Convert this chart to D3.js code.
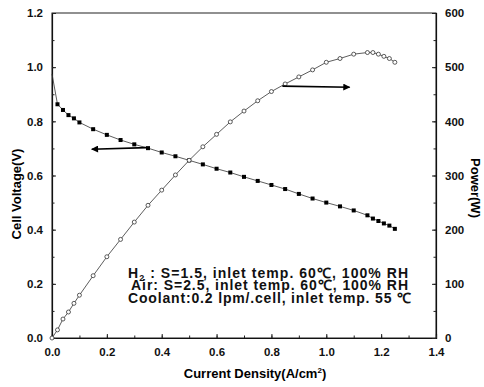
<!doctype html>
<html>
<head>
<meta charset="utf-8">
<style>
body { margin: 0; background: #fff; }
svg { display: block; font-family: "Liberation Sans", Arial, sans-serif; }
.tick text { font-size: 11.5px; font-weight: bold; fill: #111; }
</style>
<script src="https://d3js.org/d3.v7.min.js"></script>
</head>
<body>
<svg width="484" height="387"></svg>
<script>
// current density (A/cm2)
var current = [0, 0.02, 0.04, 0.06, 0.08, 0.10, 0.15, 0.20, 0.25, 0.30, 0.35, 0.40, 0.45, 0.50,
	0.55, 0.60, 0.65, 0.70, 0.75, 0.80, 0.85, 0.90, 0.95, 1.00, 1.05, 1.10, 1.15, 1.17, 1.19, 1.21, 1.23, 1.25];
// cell voltage (V)
var voltage = [0.975, 0.863, 0.842, 0.823, 0.811, 0.796, 0.771, 0.750, 0.731, 0.715, 0.701, 0.685, 0.671, 0.656,
	0.641, 0.625, 0.611, 0.595, 0.580, 0.565, 0.550, 0.532, 0.515, 0.500, 0.486, 0.471, 0.453, 0.441, 0.432, 0.423, 0.415, 0.403];
// power (W)
var power = [0, 15, 35, 48, 64, 79, 115, 150, 182, 214, 245, 273, 301, 328,
	353, 376, 399, 419, 438, 455, 469, 482, 495, 509, 516, 524, 527, 527, 524, 520, 516, 509];

var xTicks = [0, 0.2, 0.4, 0.6, 0.8, 1.0, 1.2, 1.4];
var vTicks = [0, 0.2, 0.4, 0.6, 0.8, 1.0, 1.2];
var pTicks = [0, 100, 200, 300, 400, 500, 600];

var notes = ["S=1.5, inlet temp. 60\u2103, 100% RH",
	"Air: S=2.5, inlet temp. 60\u2103, 100% RH",
	"Coolant:0.2 lpm/.cell, inlet temp. 55 \u2103"];

var svg = d3.select("svg");
var m = {left: 52, right: 48, top: 13, bottom: 49};
var w = 484 - m.left - m.right, h = 387 - m.top - m.bottom;
var g = svg.append("g").attr("transform", "translate(" + m.left + "," + m.top + ")");

var x = d3.scaleLinear().domain([0, 1.4]).range([0, w]);
var yV = d3.scaleLinear().domain([0, 1.2]).range([h, 0]);
var yP = d3.scaleLinear().domain([0, 600]).range([h, 0]);

function minor(axis, scale, step, n, size) {
	var t = d3.range(0, n + 1).map(function(i) { return i * step; });
	g.append("g").attr("transform", axis.tr)
		.call(axis.fn(scale).tickValues(t).tickSize(size).tickFormat(""))
		.call(function(s) { s.select(".domain").remove(); });
}

// frame
g.append("rect").attr("width", w).attr("height", h)
	.attr("fill", "none").attr("stroke", "#222").attr("stroke-width", 1);

// axes, ticks pointing inward
var xa = g.append("g").attr("transform", "translate(0," + h + ")")
	.call(d3.axisBottom(x).tickValues(xTicks).tickSize(-4).tickPadding(10).tickFormat(d3.format(".1f")));
var va = g.append("g")
	.call(d3.axisLeft(yV).tickValues(vTicks).tickSize(-4).tickPadding(9).tickFormat(d3.format(".1f")));
var pa = g.append("g").attr("transform", "translate(" + w + ",0)")
	.call(d3.axisRight(yP).tickValues(pTicks).tickSize(-4).tickPadding(9).tickFormat(d3.format("d")));
[xa, va, pa].forEach(function(a) {
	a.select(".domain").attr("stroke", "#111").attr("stroke-width", 1.2);
});
minor({tr: "translate(0," + h + ")", fn: d3.axisBottom}, x, 0.1, 14, -2.5);
minor({tr: "", fn: d3.axisLeft}, yV, 0.1, 12, -2.5);
minor({tr: "translate(" + w + ",0)", fn: d3.axisRight}, yP, 50, 12, -2.5);
g.selectAll(".tick line").attr("stroke", "#222");

// voltage curve
var lineV = d3.line().x(function(d, i) { return x(current[i]); }).y(function(d) { return yV(d); });
g.append("path").datum(voltage).attr("d", lineV)
	.attr("fill", "none").attr("stroke", "#333").attr("stroke-width", 0.8);
g.selectAll(".sq").data(voltage.slice(1)).enter().append("rect")
	.attr("x", function(d, i) { return x(current[i + 1]) - 2; })
	.attr("y", function(d) { return yV(d) - 2; })
	.attr("width", 4).attr("height", 4).attr("fill", "#000");

// power curve
var lineP = d3.line().x(function(d, i) { return x(current[i]); }).y(function(d) { return yP(d); });
g.append("path").datum(power).attr("d", lineP)
	.attr("fill", "none").attr("stroke", "#333").attr("stroke-width", 0.8);
g.selectAll(".ci").data(power).enter().append("circle")
	.attr("cx", function(d, i) { return x(current[i]); })
	.attr("cy", function(d) { return yP(d); })
	.attr("r", 2).attr("fill", "#fff").attr("stroke", "#333").attr("stroke-width", 0.8);

// arrows
svg.append("defs").append("marker").attr("id", "ah")
	.attr("viewBox", "0 0 10 10").attr("refX", 9).attr("refY", 5)
	.attr("markerWidth", 10).attr("markerHeight", 7).attr("markerUnits", "userSpaceOnUse")
	.attr("orient", "auto")
	.append("path").attr("d", "M0,0L10,5L0,10Z").attr("fill", "#000");
g.append("line").attr("x1", x(0.345)).attr("y1", yV(0.703)).attr("x2", x(0.145)).attr("y2", yV(0.697))
	.attr("stroke", "#000").attr("stroke-width", 1.6).attr("marker-end", "url(#ah)");
g.append("line").attr("x1", x(0.84)).attr("y1", yP(465)).attr("x2", x(1.085)).attr("y2", yP(463))
	.attr("stroke", "#000").attr("stroke-width", 1.6).attr("marker-end", "url(#ah)");

// condition notes
var nt = svg.append("g").attr("font-size", "14px").attr("font-weight", "bold")
	.attr("fill", "#111").attr("text-anchor", "start");
var t1 = nt.append("text").attr("x", 128).attr("y", 277.5)
	.attr("textLength", 280).attr("lengthAdjust", "spacing");
t1.append("tspan").text("H");
t1.append("tspan").attr("font-size", "9px").attr("dy", 3).text("2");
t1.append("tspan").attr("dy", -3).text(" : " + notes[0]);
nt.append("text").attr("x", 131).attr("y", 290)
	.attr("textLength", 277).attr("lengthAdjust", "spacing").text(notes[1]);
nt.append("text").attr("x", 128).attr("y", 302.5)
	.attr("textLength", 283).attr("lengthAdjust", "spacing").text(notes[2]);

// axis titles
svg.append("text").attr("transform", "translate(20.5,194) rotate(-90)")
	.attr("text-anchor", "middle").attr("font-size", "13px").attr("font-weight", "bold")
	.text("Cell Voltage(V)");
svg.append("text").attr("transform", "translate(471,188) rotate(90)")
	.attr("text-anchor", "middle").attr("font-size", "13px").attr("font-weight", "bold")
	.text("Power(W)");
var xt = svg.append("text").attr("x", 255).attr("y", 378)
	.attr("text-anchor", "middle").attr("font-size", "13px").attr("font-weight", "bold");
xt.append("tspan").text("Current Density(A/cm");
xt.append("tspan").attr("font-size", "8px").attr("dy", -5).text("2");
xt.append("tspan").attr("dy", 5).text(")");
</script>
</body>
</html>
